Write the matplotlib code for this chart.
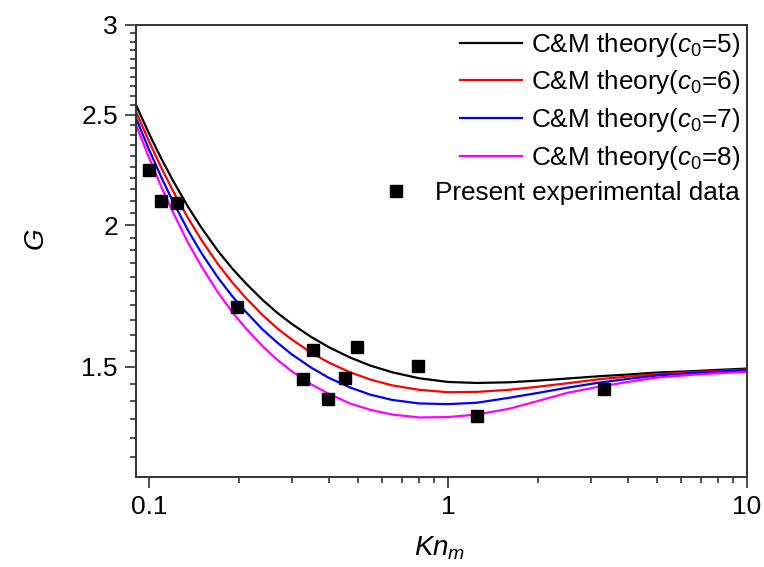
import numpy as np
import matplotlib
matplotlib.use("Agg")
import matplotlib.pyplot as plt
from matplotlib.ticker import FixedLocator, NullFormatter, LogLocator, FixedFormatter

plt.rcParams['font.family'] = ['Liberation Sans', 'DejaVu Sans']
plt.rcParams['mathtext.fontset'] = 'custom'
plt.rcParams['mathtext.it'] = 'Liberation Sans:italic'
plt.rcParams['mathtext.rm'] = 'Liberation Sans'

# shared Kn_m grid for theory curves
kn_theory = [0.0905, 0.1, 0.11, 0.12, 0.135, 0.15, 0.17, 0.19, 0.21, 0.24, 0.27, 0.3,
             0.35, 0.4, 0.47, 0.55, 0.65, 0.8, 1.0, 1.25, 1.6, 2.0, 2.5, 3.2, 4.0,
             5.0, 6.5, 8.0, 10.0]
g_c5 = [2.551, 2.408, 2.288, 2.191, 2.076, 1.988, 1.898, 1.831, 1.779, 1.718, 1.672, 1.637,
        1.593, 1.561, 1.529, 1.504, 1.484, 1.466, 1.455, 1.452, 1.454, 1.459, 1.465, 1.472,
        1.477, 1.483, 1.487, 1.491, 1.495]
g_c6 = [2.516, 2.370, 2.246, 2.146, 2.029, 1.939, 1.848, 1.780, 1.727, 1.666, 1.620, 1.586,
        1.543, 1.513, 1.484, 1.462, 1.445, 1.432, 1.425, 1.426, 1.432, 1.441, 1.451, 1.463,
        1.471, 1.478, 1.484, 1.488, 1.492]
g_c7 = [2.484, 2.331, 2.203, 2.100, 1.979, 1.888, 1.798, 1.731, 1.679, 1.618, 1.574, 1.539,
        1.497, 1.467, 1.439, 1.418, 1.403, 1.393, 1.391, 1.395, 1.409, 1.423, 1.438, 1.453,
        1.464, 1.474, 1.481, 1.486, 1.490]
g_c8 = [2.449, 2.293, 2.161, 2.056, 1.930, 1.838, 1.745, 1.676, 1.624, 1.564, 1.520, 1.487,
        1.447, 1.420, 1.393, 1.375, 1.362, 1.354, 1.355, 1.362, 1.378, 1.400, 1.423, 1.441,
        1.455, 1.468, 1.476, 1.481, 1.485]

kn_exp = [0.1, 0.11, 0.124, 0.197, 0.327, 0.354, 0.398, 0.453, 0.497, 0.796, 1.247, 3.33]
g_exp = [2.235, 2.099, 2.092, 1.694, 1.463, 1.552, 1.405, 1.467, 1.562, 1.503, 1.357, 1.433]

labels = [r'C&M theory($\mathit{c}_{\mathit{0}}$=5)', r'C&M theory($\mathit{c}_{\mathit{0}}$=6)',
          r'C&M theory($\mathit{c}_{\mathit{0}}$=7)', r'C&M theory($\mathit{c}_{\mathit{0}}$=8)',
          'Present experimental data']
colors = ['black', '#ff0000', '#0000ff', '#ff00ff']

x_ticks = [0.1, 1, 10]
x_ticklabels = ['0.1', '1', '10']
y_ticks = [1.5, 2, 2.5, 3]
y_ticklabels = ['1.5', '2', '2.5', '3']

fig = plt.figure(figsize=(7.64, 5.67), dpi=100)
ax = fig.add_axes([136/764, 1-477/567, (747-136)/764, (477-25)/567])

for g, c, lab in zip([g_c5, g_c6, g_c7, g_c8], colors, labels[:4]):
    ax.plot(kn_theory, g, color=c, lw=1.6, label=lab, solid_joinstyle='round')
ax.plot(kn_exp, g_exp, 's', color='black', ms=8.5, linestyle='none', label=labels[4])

ax.set_xscale('log')
ax.set_yscale('log')
ax.set_xlim(0.0905, 10)
ax.set_ylim(1.2, 3)

ax.xaxis.set_major_locator(FixedLocator(x_ticks))
ax.xaxis.set_major_formatter(FixedFormatter(x_ticklabels))
ax.xaxis.set_minor_locator(LogLocator(base=10, subs=np.arange(2, 10)))
ax.xaxis.set_minor_formatter(NullFormatter())

ax.yaxis.set_major_locator(FixedLocator(y_ticks))
ax.yaxis.set_major_formatter(FixedFormatter(y_ticklabels))
minor_y = [round(v, 2) for v in np.arange(1.25, 3.0, 0.05) if round(v, 2) not in (1.5, 2.0, 2.5)]
ax.yaxis.set_minor_locator(FixedLocator(minor_y))
ax.yaxis.set_minor_formatter(NullFormatter())

ax.tick_params(which='both', direction='out', top=False, right=False, labelsize=19,
               width=1.2, color='#333333')
ax.tick_params(which='major', length=8, pad=5)
ax.tick_params(which='minor', length=4.5)
for s in ax.spines.values():
    s.set_linewidth(1.4)
    s.set_color('#333333')

ax.set_xlabel(r'$\mathit{Kn}_{\mathit{m}}$', fontsize=20)
ax.set_ylabel(r'$\mathit{G}$', fontsize=20)
ax.xaxis.set_label_coords((440 - 136) / 611, (477 - 534) / 452)
ax.yaxis.set_label_coords((50 - 136) / 611, (477 - 240) / 452)

leg = ax.legend(loc='upper right', bbox_to_anchor=(0.998, 1.0), frameon=False, fontsize=18.8,
                handlelength=2.4, handletextpad=0.32, labelspacing=0.37, borderaxespad=0.0,
                borderpad=0.22)
for vp in leg._legend_handle_box.get_children():
    vp.align = 'right'

fig.savefig('out.png', dpi=100)
